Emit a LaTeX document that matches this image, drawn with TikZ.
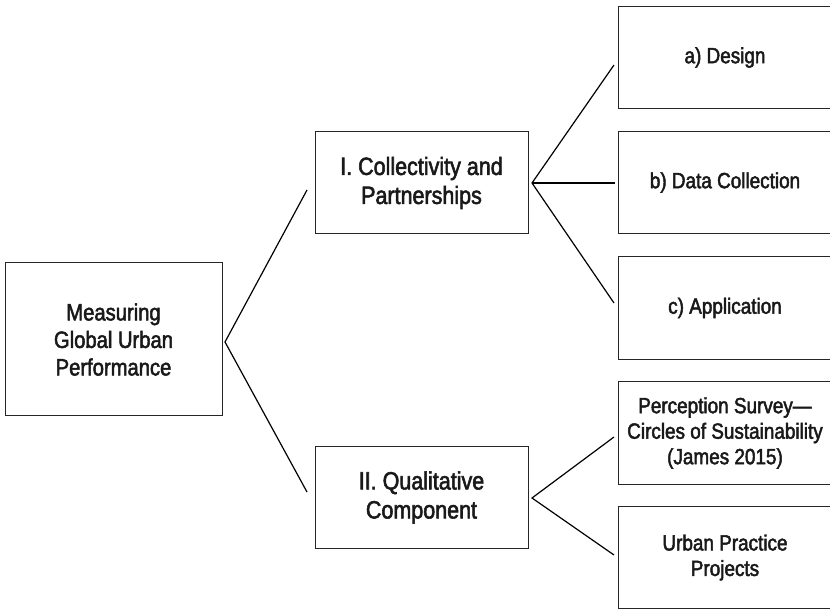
\documentclass[tikz,border=0pt]{standalone}
\usepackage{fontspec}
\setmainfont[FakeStretch=0.86,FakeBold=2.2]{Liberation Sans}
\begin{document}
\begin{tikzpicture}[x=1pt,y=-1pt,
  frame/.style={draw=black!85, line width=1pt},
  box/.style={frame, rectangle, inner sep=0pt, align=center, text=black!90},
  rootbox/.style={box, minimum width=217pt, minimum height=153pt, font=\fontsize{23.5}{27.5}\selectfont},
  midbox/.style={box, minimum width=213pt, minimum height=102pt, font=\fontsize{25}{29}\selectfont},
  leafbox/.style={rectangle, inner sep=0pt, minimum width=212pt, minimum height=102pt, align=center, text=black!90, font=\fontsize{22}{25.5}\selectfont},
  link/.style={draw=black, line width=1.2pt}]
\useasboundingbox (0,0) rectangle (830,609);

% root
\node[rootbox] (root) at (113.5,339.5) {Measuring\\Global Urban\\Performance};

% second level
\node[midbox] (coll) at (421.5,183) {I. Collectivity and\\Partnerships};
\node[midbox] (qual) at (421.5,497.5) {II. Qualitative\\Component};

% leaves; their frames are open on the right, where the page ends
\node[leafbox] (design) at (725,57.5) {a) Design};
\node[leafbox] (data) at (725,182.5) {b) Data Collection};
\node[leafbox] (appl) at (725,308) {c) Application};
\node[leafbox] (perc) at (725,433) {Perception Survey---\\Circles of Sustainability\\(James 2015)};
\node[leafbox] (urban) at (725,557.5) {Urban Practice\\Projects};
\foreach \n in {design,data,appl,perc,urban}
  \draw[frame] ([xshift=10pt]\n.north east) -- (\n.north west) -- (\n.south west) -- ([xshift=10pt]\n.south east);

% branch points and free ends of the connectors
\coordinate (rootfork) at (225,342);
\coordinate (rootup) at (307,190);
\coordinate (rootdown) at (307,492);
\coordinate (collfork) at (532,183);
\coordinate (collup) at (614,65);
\coordinate (collmid) at (615,183);
\coordinate (colldown) at (614,303);
\coordinate (qualfork) at (532,498);
\coordinate (qualup) at (614,437);
\coordinate (qualdown) at (614,555);

\draw[link] (rootup) -- (rootfork) -- (rootdown);
\draw[link] (collup) -- (collfork) -- (colldown);
\draw[link] (collfork) -- (collmid);
\draw[link] (qualup) -- (qualfork) -- (qualdown);
\end{tikzpicture}
\end{document}
